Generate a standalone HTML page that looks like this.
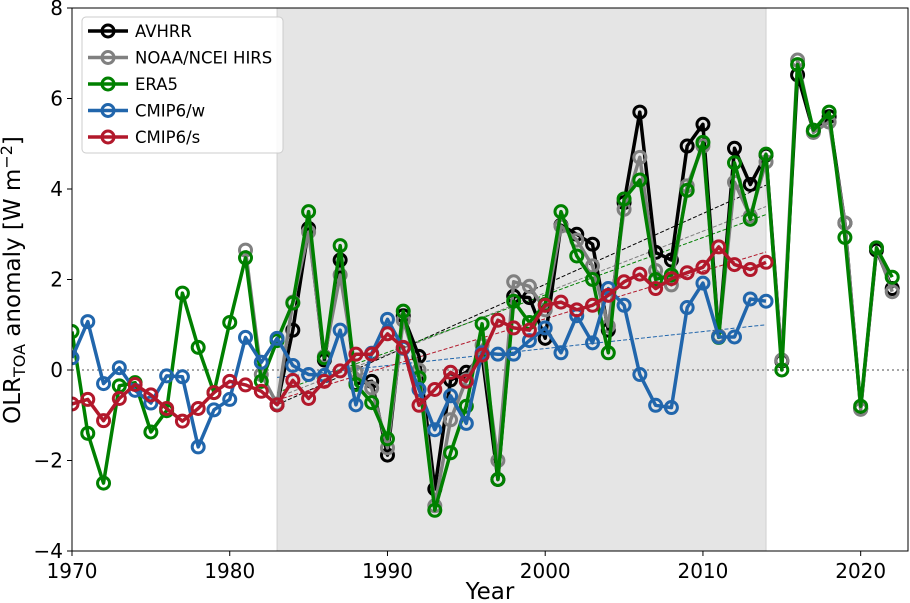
<!DOCTYPE html>
<html><head><meta charset="utf-8"><style>
html,body{margin:0;padding:0;background:#fff;}
svg{display:block;font-family:"DejaVu Sans","Liberation Sans",sans-serif;}
</style></head><body>
<svg id="chart" width="910" height="603" viewBox="0 0 910 603" xmlns="http://www.w3.org/2000/svg"></svg>
<script>
const xTicks=[1970,1980,1990,2000,2010,2020];
const yTicks=[-4,-2,0,2,4,6,8];
const shadeRange=[1983,2014];
const avhrrYears=[1983,2022];
const avhrr=[-0.77,0.88,3.13,0.22,2.43,-0.3,-0.25,-1.88,1.2,0.3,-2.63,-0.22,-0.05,0.33,-2.42,1.63,1.6,0.7,3.2,3.0,2.78,0.88,3.7,5.7,2.6,2.43,4.95,5.43,0.75,4.9,4.1,4.75,0.2,6.52,5.28,5.6,3.25,-0.85,2.65,1.8];
const hirsYears=[1981,2022];
const hirs=[2.65,-0.1,-0.75,1.5,3.05,0.3,2.1,-0.05,-0.4,-1.72,1.1,0.0,-3.0,-1.1,-0.22,0.55,-2.0,1.95,1.85,1.33,3.18,2.87,2.3,0.97,3.55,4.7,2.2,1.88,4.07,4.95,0.75,4.15,3.4,4.6,0.22,6.85,5.25,5.48,3.25,-0.87,2.7,1.73];
const era5Years=[1970,2022];
const era5=[0.85,-1.4,-2.5,-0.35,-0.28,-1.37,-0.9,1.7,0.5,-0.5,1.05,2.48,-0.25,0.65,1.48,3.5,0.27,2.75,-0.32,-0.72,-1.52,1.3,-0.17,-3.1,-1.83,-0.8,1.02,-2.42,1.52,1.05,1.45,3.5,2.52,2.0,0.38,3.78,4.2,2.0,2.1,3.97,5.03,0.72,4.58,3.33,4.77,0.0,6.75,5.3,5.7,2.93,-0.8,2.7,2.05];
const cmipwYears=[1970,2014];
const cmipw=[0.27,1.07,-0.3,0.05,-0.45,-0.73,-0.13,-0.15,-1.7,-0.88,-0.65,0.72,0.17,0.7,0.1,-0.1,-0.12,0.88,-0.77,0.37,1.12,0.48,-0.43,-1.32,-0.57,-1.18,0.38,0.35,0.35,0.65,0.93,0.38,1.2,0.6,1.8,1.43,-0.1,-0.78,-0.83,1.38,1.92,0.73,0.73,1.57,1.52];
const cmipsYears=[1970,2014];
const cmips=[-0.75,-0.65,-1.12,-0.63,-0.32,-0.55,-0.85,-1.13,-0.85,-0.5,-0.25,-0.33,-0.47,-0.77,-0.23,-0.63,-0.25,-0.02,0.35,0.35,0.8,0.5,-0.78,-0.43,-0.05,-0.25,0.33,1.1,0.93,0.88,1.43,1.5,1.33,1.43,1.65,1.95,2.12,1.8,2.02,2.15,2.27,2.72,2.33,2.22,2.38];
const seriesNames=["AVHRR","NOAA/NCEI HIRS","ERA5","CMIP6/w","CMIP6/s"];

const NS="http://www.w3.org/2000/svg";
const svg=document.getElementById('chart');
const L=72,R=908,T=8,B=551,X0=1970,X1=2023,Y0=-4,Y1=8;
const sx=v=>L+(v-X0)/(X1-X0)*(R-L);
const sy=v=>B-(v-Y0)/(Y1-Y0)*(B-T);
function mk(tag,attrs,parent){const e=document.createElementNS(NS,tag);for(const k in attrs)e.setAttribute(k,attrs[k]);(parent||svg).appendChild(e);return e;}

const clip=mk('clipPath',{id:'pc'});mk('rect',{x:L,y:T,width:R-L,height:B-T},clip);
const shade=mk('rect',{x:sx(shadeRange[0]),y:T,width:sx(shadeRange[1])-sx(shadeRange[0]),height:B-T,fill:'#e5e5e5',stroke:'#d0d0d0','stroke-width':1});


const zl=mk('line',{x1:L,x2:R,y1:sy(0),y2:sy(0),stroke:'#888','stroke-width':1.5,'stroke-dasharray':'2,3'});



const colors=['#000000','#808080','#008000','#2166ac','#b2182b'];
const all=[[avhrrYears,avhrr],[hirsYears,hirs],[era5Years,era5],[cmipwYears,cmipw],[cmipsYears,cmips]];
const g=mk('g',{'clip-path':'url(#pc)'});
all.forEach((s,i)=>{
  const xs=[],ys=[];
  s[1].forEach((v,j)=>{const yr=s[0][0]+j;if(yr>=shadeRange[0]&&yr<=shadeRange[1]){xs.push(yr);ys.push(v);}});
  const n=xs.length,mx=xs.reduce((a,b)=>a+b)/n,my=ys.reduce((a,b)=>a+b)/n;
  let num=0,den=0;xs.forEach((x,k)=>{num+=(x-mx)*(ys[k]-my);den+=(x-mx)**2;});
  const b=num/den,a=my-b*mx;
  const tl=mk('line',{x1:sx(shadeRange[0]),y1:sy(a+b*shadeRange[0]),x2:sx(shadeRange[1]),y2:sy(a+b*shadeRange[1]),stroke:colors[i],'stroke-width':1,'stroke-dasharray':'4,2'},g);
  
  
});
all.forEach((s,i)=>{
  const sg=mk('g',{},g);
  
  
  const pts=s[1].map((v,j)=>sx(s[0][0]+j).toFixed(1)+','+sy(v).toFixed(1)).join(' ');
  mk('polyline',{points:pts,fill:'none',stroke:colors[i],'stroke-width':3.5,'stroke-linejoin':'round'},sg);
  s[1].forEach((v,j)=>{
    const c=mk('circle',{cx:sx(s[0][0]+j),cy:sy(v),r:6,fill:'none',stroke:colors[i],'stroke-width':3},sg);
    
    
  });
});
const fr=mk('rect',{x:L,y:T,width:R-L,height:B-T,fill:'none',stroke:'#000','stroke-width':1});


xTicks.forEach(t=>{
  mk('line',{x1:sx(t),x2:sx(t),y1:B,y2:B+5,stroke:'#000'});
  const tx=mk('text',{x:sx(t),y:B+27,'font-size':20,'text-anchor':'middle'});tx.textContent=t;
  
  
});
yTicks.forEach(t=>{
  mk('line',{x1:L-5,x2:L,y1:sy(t),y2:sy(t),stroke:'#000'});
  const tx=mk('text',{x:L-9,y:sy(t)+7,'font-size':20,'text-anchor':'end'});tx.textContent=(t<0?'\u2212'+(-t):t);
  
  
});
const xt=mk('text',{x:490,y:603,'font-size':23,'text-anchor':'middle',transform:'translate(0,-4)'});
xt.textContent='Year';


const yt=mk('text',{transform:'translate(20,280) rotate(-90)','font-size':23,'text-anchor':'middle'});


yt.innerHTML='OLR<tspan font-size="16" dy="5">TOA</tspan><tspan dy="-5"> anomaly [W m</tspan><tspan font-size="16" dy="-8">\u22122</tspan><tspan dy="8">]</tspan>';
const lg=mk('g',{});


mk('rect',{x:82,y:17,width:201,height:136,rx:4,fill:'#fff','fill-opacity':0.85,stroke:'#ccc'},lg);
seriesNames.forEach((n,i)=>{
  const y=31+i*26.5;
  const e=mk('g',{},lg);
  
  
  mk('line',{x1:88,x2:128,y1:y,y2:y,stroke:colors[i],'stroke-width':3.5},e);
  mk('circle',{cx:108,cy:y,r:6,fill:'none',stroke:colors[i],'stroke-width':3},e);
  const t=mk('text',{x:135,y:y+6,'font-size':16.5},e);t.textContent=n;
});
</script>
</body></html>
